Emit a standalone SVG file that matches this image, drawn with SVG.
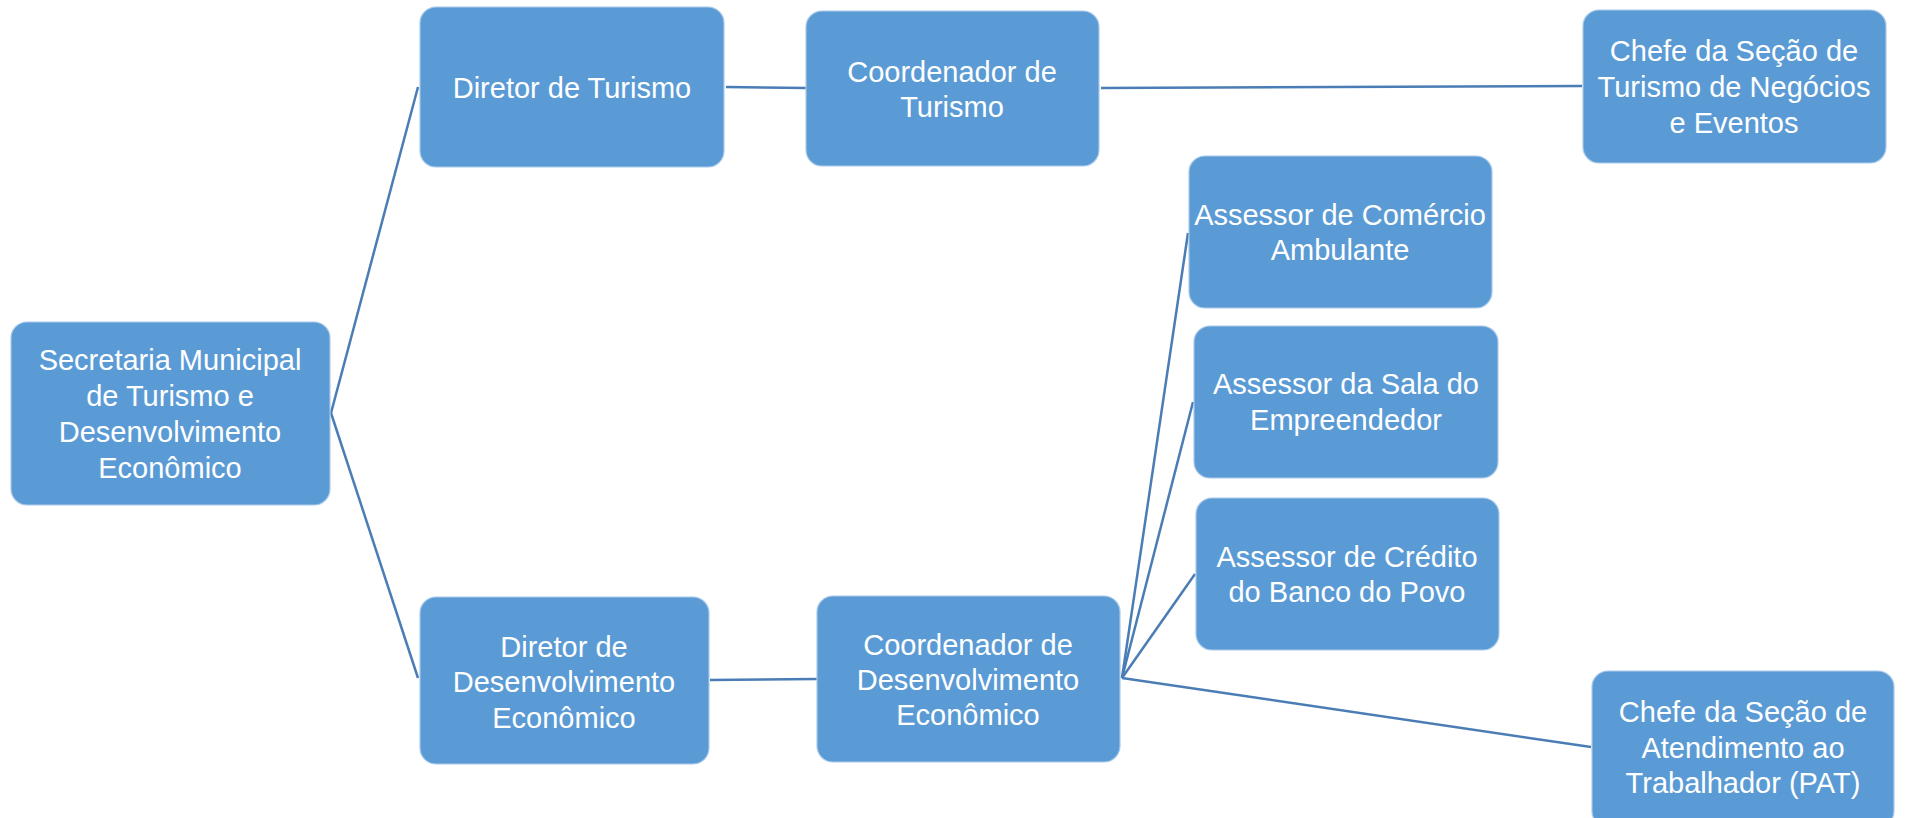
<svg xmlns="http://www.w3.org/2000/svg" width="1905" height="818" viewBox="0 0 1905 818">
<style>
.box{fill:#5B9BD5;stroke:#A9C9EA;stroke-width:1.2}
.t{font-family:"Liberation Sans",Arial,sans-serif;font-size:29px;fill:#ffffff;text-anchor:middle}
.c{stroke:#4A7DB5;stroke-width:2.5;fill:none}
</style>
<rect width="1905" height="818" fill="#ffffff"/>
<g id="connectors">
<line class="c" x1="331" y1="413" x2="418" y2="87"/>
<line class="c" x1="331" y1="413" x2="418" y2="678"/>
<line class="c" x1="726" y1="87" x2="806" y2="88"/>
<line class="c" x1="1101" y1="88" x2="1582" y2="86"/>
<line class="c" x1="710" y1="680" x2="817" y2="679"/>
<line class="c" x1="1122" y1="678" x2="1188" y2="233"/>
<line class="c" x1="1122" y1="678" x2="1193" y2="402"/>
<line class="c" x1="1122" y1="678" x2="1195" y2="574"/>
<line class="c" x1="1122" y1="678" x2="1591" y2="747"/>
</g>
<g id="secretaria">
<rect class="box" x="11" y="322" width="319" height="183" rx="16"/>
<text class="t" x="170" y="370">Secretaria Municipal</text>
<text class="t" x="170" y="406">de Turismo e</text>
<text class="t" x="170" y="442">Desenvolvimento</text>
<text class="t" x="170" y="478">Econômico</text>
</g>
<g id="diretor-turismo">
<rect class="box" x="420" y="7" width="304" height="160" rx="16"/>
<text class="t" x="572" y="98">Diretor de Turismo</text>
</g>
<g id="coordenador-turismo">
<rect class="box" x="806" y="11" width="293" height="155" rx="16"/>
<text class="t" x="952" y="82">Coordenador de</text>
<text class="t" x="952" y="117">Turismo</text>
</g>
<g id="chefe-turismo-negocios">
<rect class="box" x="1583" y="10" width="303" height="153" rx="16"/>
<text class="t" x="1734" y="61">Chefe da Seção de</text>
<text class="t" x="1734" y="97">Turismo de Negócios</text>
<text class="t" x="1734" y="133">e Eventos</text>
</g>
<g id="assessor-comercio">
<rect class="box" x="1189" y="156" width="303" height="152" rx="16"/>
<text class="t" x="1340" y="225">Assessor de Comércio</text>
<text class="t" x="1340" y="260">Ambulante</text>
</g>
<g id="assessor-sala">
<rect class="box" x="1194" y="326" width="304" height="152" rx="16"/>
<text class="t" x="1346" y="394">Assessor da Sala do</text>
<text class="t" x="1346" y="430">Empreendedor</text>
</g>
<g id="assessor-credito">
<rect class="box" x="1196" y="498" width="303" height="152" rx="16"/>
<text class="t" x="1347" y="567">Assessor de Crédito</text>
<text class="t" x="1347" y="602">do Banco do Povo</text>
</g>
<g id="diretor-desenvolvimento">
<rect class="box" x="420" y="597" width="289" height="167" rx="16"/>
<text class="t" x="564" y="657">Diretor de</text>
<text class="t" x="564" y="692">Desenvolvimento</text>
<text class="t" x="564" y="728">Econômico</text>
</g>
<g id="coordenador-desenvolvimento">
<rect class="box" x="817" y="596" width="303" height="166" rx="16"/>
<text class="t" x="968" y="655">Coordenador de</text>
<text class="t" x="968" y="690">Desenvolvimento</text>
<text class="t" x="968" y="725">Econômico</text>
</g>
<g id="chefe-pat">
<rect class="box" x="1592" y="671" width="302" height="156" rx="16"/>
<text class="t" x="1743" y="722">Chefe da Seção de</text>
<text class="t" x="1743" y="758">Atendimento ao</text>
<text class="t" x="1743" y="793">Trabalhador (PAT)</text>
</g>
</svg>
